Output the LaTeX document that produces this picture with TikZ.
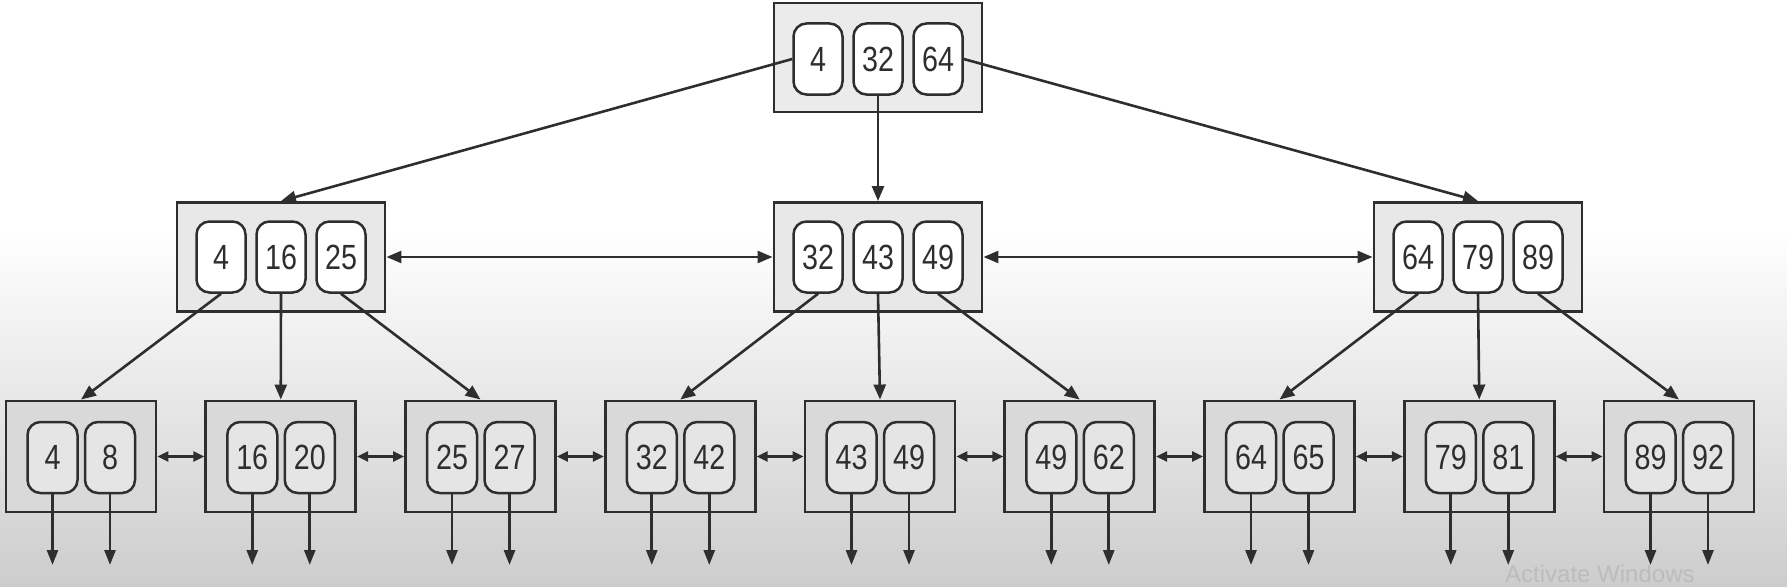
\documentclass[tikz,border=0pt]{standalone}
\usepackage{fontspec}
\setmainfont{Liberation Sans}
\newfontfamily\digitfont[FakeStretch=0.82]{Liberation Sans}
\usetikzlibrary{arrows.meta}
\definecolor{ink}{HTML}{2E2E2E}
\definecolor{boxtop}{HTML}{EBEBEB}
\definecolor{boxmid}{HTML}{E8E8E8}
\definecolor{leafbg}{HTML}{D9D9D9}
\definecolor{leafcellbg}{HTML}{E5E5E5}
\definecolor{bgbot}{HTML}{CDCDCD}
\definecolor{wmark}{HTML}{BCBCBC}
\begin{document}
\begin{tikzpicture}[x=1pt,y=-1pt,
  box/.style={draw=ink, line width=2.9pt, fill=boxtop, minimum width=208pt, minimum height=109pt, inner sep=0pt},
  midbox/.style={box, fill=boxmid},
  leafbox/.style={box, fill=leafbg, minimum width=150pt, minimum height=111pt},
  cell/.style={draw=ink, line width=2.5pt, fill=white, rounded corners=13pt, minimum width=49pt, minimum height=71pt, inner sep=0pt, text=ink, font=\digitfont\fontsize{35}{35}\selectfont},
  leafcell/.style={cell, fill=leafcellbg, minimum width=50pt},
  edge/.style={draw=ink, line width=2.6pt, -{Triangle[length=15pt,width=12pt]}},
  dbl/.style={draw=ink, line width=2.6pt, {Triangle[length=11pt,width=10pt]}-{Triangle[length=11pt,width=10pt]}},
  bigdbl/.style={draw=ink, line width=2.6pt, {Triangle[length=15pt,width=12pt]}-{Triangle[length=15pt,width=12pt]}},
  downarrow/.style={draw=ink, line width=2.6pt, -{Triangle[length=15pt,width=11pt]}}
]
\useasboundingbox (0,0) rectangle (1787,586);
\fill[white] (0,0) rectangle (1787,586);
\shade[top color=white, bottom color=bgbot] (0,230) rectangle (1787,586);

% root
\node[box] (root) at (878,57.5) {};
\node[cell] (r1) at (818,59) {4};
\node[cell] (r2) at (878,59) {32};
\node[cell] (r3) at (938,59) {64};

% level 2
\node[midbox] (L) at (281,257) {};
\node[cell] (La) at (221,257) {4};
\node[cell] (Lb) at (281,257) {16};
\node[cell] (Lc) at (341,257) {25};

\node[midbox] (M) at (878,257) {};
\node[cell] (Ma) at (818,257) {32};
\node[cell] (Mb) at (878,257) {43};
\node[cell] (Mc) at (938,257) {49};

\node[midbox] (R) at (1478,257) {};
\node[cell] (Ra) at (1418,257) {64};
\node[cell] (Rb) at (1478,257) {79};
\node[cell] (Rc) at (1538,257) {89};

% leaves
\foreach \i/\a/\b in {1/4/8,2/16/20,3/25/27,4/32/42,5/43/49,6/49/62,7/64/65,8/79/81,9/89/92}{
  \pgfmathsetmacro\cx{81+199.75*(\i-1)}
  \node[leafbox] (leaf\i) at (\cx,456.5) {};
  \node[leafcell] (l\i a) at (\cx-28.5,457.5) {\a};
  \node[leafcell] (l\i b) at (\cx+29,457.5) {\b};
  \coordinate (d\i a) at (\cx-28.5,565);
  \coordinate (d\i b) at (\cx+29,565);
  \draw[downarrow] (l\i a.south) -- (d\i a);
  \draw[downarrow] (l\i b.south) -- (d\i b);
}
\foreach \i/\j in {1/2,2/3,3/4,4/5,5/6,6/7,7/8,8/9}{
  \draw[dbl] (leaf\i.east) -- (leaf\j.west);
}

% root edges
\draw[edge] (r1.west) -- (L.north);
\draw[edge] (r2.south) -- (M.north);
\draw[edge] (r3.east) -- (R.north);

% level 2 links
\draw[bigdbl] (L.east) -- (M.west);
\draw[bigdbl] (M.east) -- (R.west);

% level 2 to leaves
\draw[edge] (La.south) -- (leaf1.north);
\draw[edge] (Lb.south) -- (leaf2.north);
\draw[edge] (Lc.south) -- (leaf3.north);
\draw[edge] (Ma.south) -- (leaf4.north);
\draw[edge] (Mb.south) -- (leaf5.north);
\draw[edge] (Mc.south) -- (leaf6.north);
\draw[edge] (Ra.south) -- (leaf7.north);
\draw[edge] (Rb.south) -- (leaf8.north);
\draw[edge] (Rc.south) -- (leaf9.north);

\node[anchor=base west, inner sep=0pt, text=wmark, font=\fontsize{24}{24}\selectfont] (wm) at (1505,582) {Activate Windows};
\end{tikzpicture}
\end{document}
